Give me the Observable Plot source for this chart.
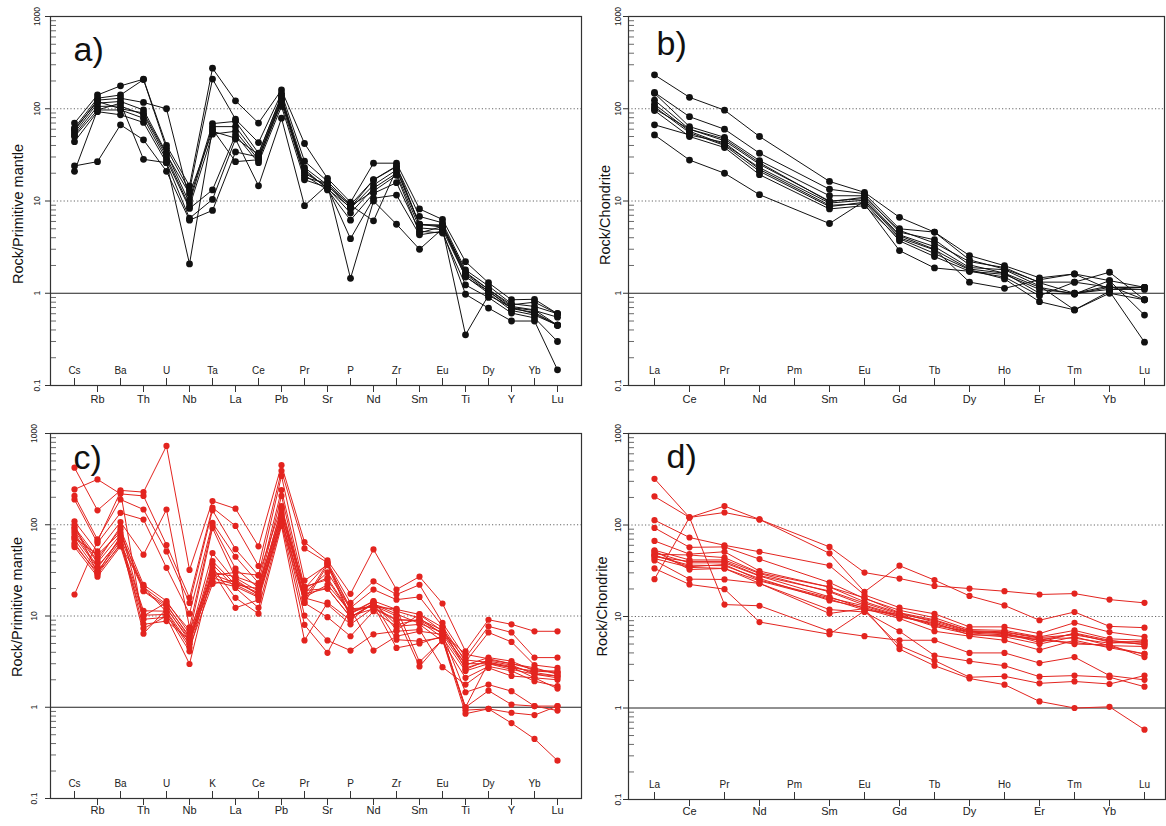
<!DOCTYPE html>
<html><head><meta charset="utf-8">
<script src="https://cdn.jsdelivr.net/npm/d3@7"></script>
<script src="https://cdn.jsdelivr.net/npm/@observablehq/plot@0.6"></script>
<style>
body{margin:0;background:#fff;width:1166px;height:826px;position:relative;overflow:hidden;font-family:"Liberation Sans",Arial,sans-serif}
.panel{position:absolute}
</style></head><body>
<div id="pa" class="panel" style="left:0;top:0"></div>
<div id="pb" class="panel" style="left:580px;top:0"></div>
<div id="pc" class="panel" style="left:0;top:415px"></div>
<div id="pd" class="panel" style="left:580px;top:415px"></div>
<script>
// ---- categories ----
const catsA = ["Cs","Rb","Ba","Th","U","Nb","Ta","La","Ce","Pb","Pr","Sr","P","Nd","Zr","Sm","Eu","Ti","Dy","Y","Yb","Lu"];
const catsC = ["Cs","Rb","Ba","Th","U","Nb","K","La","Ce","Pb","Pr","Sr","P","Nd","Zr","Sm","Eu","Ti","Dy","Y","Yb","Lu"];
const catsREE = ["La","Ce","Pr","Nd","Pm","Sm","Eu","Gd","Tb","Dy","Ho","Er","Tm","Yb","Lu"];
const catsREEdata = ["La","Ce","Pr","Nd","Sm","Eu","Gd","Tb","Dy","Ho","Er","Tm","Yb","Lu"];
const yTicks = [0.1, 1, 10, 100, 1000];
const yTickLabels = ["0.1", "1", "10", "100", "1000"];
const minorTicks = [0.2,0.3,0.4,0.5,0.6,0.7,0.8,0.9,2,3,4,5,6,7,8,9,20,30,40,50,60,70,80,90,200,300,400,500,600,700,800,900];

// ---- panel a: Rock/Primitive mantle (black) ----
const seriesA = [
 [70,141,177,209,40,14.6,275,122,70,160,42,17.6,9.7,25.7,25.7,8.2,6.3,2.2,1.3,0.85,0.86,0.6],
 [62,130,141,207,37,13,210,77,43,147,27,16.3,9.1,16.9,23.6,6.8,5.8,1.79,1.2,0.77,0.72,0.6],
 [58,124,130,117,100,10.3,69,73,33,135,23,14.9,8.3,14.9,21.7,5.6,5.4,1.65,1.1,0.72,0.66,0.45],
 [55,115,120,97,33,9.5,64,64,30,124,21,13.8,7.4,13.8,20,5.1,4.9,1.52,1.0,0.65,0.58,0.45],
 [52,106,107,86,30,8.7,53,57,28,115,19,13.2,6.2,12.1,15.8,4.7,4.5,1.23,0.9,0.61,0.54,0.3],
 [50,97,97,79,28,8.3,13.2,52,26,106,17,14,3.9,10.7,11.6,4.3,4.7,0.975,0.69,0.5,0.5,0.148],
 [44,93,86,71,26,6.5,10.4,47,14.6,79,8.9,15,1.45,10,5.6,3.0,5.0,0.354,0.95,0.7,0.6,0.45],
 [24,26.7,67,46,21,6.2,7.9,34,30,130,20,14.5,9,6.1,22,5.6,5.2,1.6,1.05,0.7,0.65,0.55],
 [21,97,115,28.3,26,2.08,60,26.7,28,120,22,13.5,8.5,17,24,5.5,5.5,1.7,1.1,0.75,0.8,0.6],
 [60,120,100,90,32,12,57,48,32,140,18,15.5,8.8,12.8,19,4.5,5.3,1.5,1.05,0.68,0.62,0.45]
];

// ---- panel b: Rock/Chondrite (black) ----
const seriesB = [
 [233,133,96.5,50,16.3,12.4,6.65,4.6,2.56,1.99,1.47,1.62,1.37,1.16],
 [150,82,60,33,13.4,12,5,4.6,2.3,1.83,1.32,1.32,1.69,0.85],
 [147,64,49,27.4,11.4,11.4,4.6,3.8,2.03,1.65,1.16,0.98,1.16,1.16],
 [124,60,45,25,10,10.6,4.3,3.2,1.9,1.8,1.2,0.66,1.0,0.85],
 [112,57,41,23,9.5,10.2,4.0,2.95,1.83,1.65,1.0,0.98,1.37,0.58],
 [105,55,40,21,8.7,9.7,3.7,2.5,1.73,1.5,0.94,1.32,1.16,1.16],
 [95.5,50,38,19.3,8.2,8.9,3.9,2.7,1.8,1.43,0.81,0.66,1.05,0.295],
 [67,52,43,22,9,9.3,2.9,1.88,1.73,1.6,1.1,1.0,1.2,0.85],
 [52,27.8,20,11.7,5.7,10,4.2,3.0,1.32,1.13,1.4,1.62,1.1,1.1],
 [100,60,47,26,9.8,11,4.8,3.5,2.2,1.9,1.3,1.0,1.1,1.16]
];

// ---- panel c: Rock/Primitive mantle (red) ----
const seriesC = [
 [422,144,238,228,730,32,182,150,58,450,64.5,40.6,17.5,53.6,19.5,27,13.7,4.1,9.1,8.1,6.8,6.8],
 [244,314,218,207,60,15.8,154,97,35.3,390,55,38.4,13.9,24,17.2,22,8.4,3.5,7.7,6.6,3.5,3.5],
 [207,69,189,147,51,13.9,144,54,27.8,343,24.5,36.3,12.3,19.5,15.1,16.2,7.7,3.14,6.6,5.2,2.9,2.7],
 [189,63,135,114,33.7,10.6,105,44.6,23,240,20.4,26.2,10.8,14.6,11.8,10.4,6.8,2.9,3.5,3.2,2.5,2.4],
 [109,51,107,47,147,7.5,99,33,20.3,207,17.5,20,9.7,13.4,11.3,9.5,6.3,2.7,3.2,2.9,2.3,2.2],
 [94,43.5,89,22,14.6,6.4,92,26.2,18.7,154,15.8,13.4,8.1,12.3,9.2,8.8,5.8,2.5,3.0,2.75,2.1,2.0],
 [85,38.5,78,20.7,13.4,5.8,49,24,17.2,135,13.9,9.7,6.0,11.3,7.7,8.1,5.3,2.1,2.8,2.5,1.93,1.7],
 [75,33.8,71,18.7,12.3,5.3,40,22,16.5,121,10.1,5.4,4.18,6.3,6.8,7.1,2.75,1.77,2.7,2.2,2.1,1.6],
 [69,31,66,11.4,11.3,4.9,36.7,20.3,12.3,105,8,3.95,12,4.18,6.0,6.8,6.3,1.46,1.77,1.5,1.03,1.03],
 [63,28.5,62,10.2,10.4,4.1,33.8,15.8,10.6,97,5.4,14,9,14,5.5,5.3,5.8,1.0,1.52,1.07,1.03,0.92],
 [57,27,58,9.2,9.7,2.98,31,12.3,15,110,16,22,11,13,4.47,5.0,6.0,0.93,0.96,0.87,0.82,1.03],
 [17.2,66,230,8.1,8.8,5.5,28.5,23,18,130,18,30,12,12.5,12,3.14,5.5,0.85,0.96,0.67,0.45,0.26],
 [100,29.5,75,7.3,10,5.0,26.2,22,20,145,20,38,11.5,13,10,2.8,5.5,1.0,3.1,2.8,2.4,2.2],
 [80,35,68,6.4,12,5.6,24,21,16,115,15,38,10,12,9,9,6.5,3.0,3.0,2.6,2.3,2.1],
 [60,30,60,21,11,4.5,22.5,25,17,100,14,36,9.5,14,8,9.2,7,3.3,3.1,2.7,2.5,2.5],
 [72,47,82,19,13,6.0,30,27,22,125,21,25,10.5,14.5,7,10.5,7.5,2.6,3.3,3.0,2.7,2.3],
 [90,40,95,10,14,7,28,30,28,160,19,20,9.8,13.5,10.5,8.3,6.6,3.8,3.4,3.0,2.6,2.4]
];

// ---- panel d: Rock/Chondrite (red) ----
const seriesD = [
 [25.6,121,161,115,57.6,30.2,26,21.6,20.2,18.9,17.4,17.8,15.3,14.1],
 [205,121,137,115,49,18.6,35.9,25,16.8,13.2,9.1,11.2,7.8,7.55],
 [320,121,13.5,13.1,6.9,6.1,5.5,5.5,4.0,4.0,3.1,3.6,2.26,2.03],
 [113,73,60,51,36,17.2,12.5,10.7,7.7,7.7,6.5,8.55,6.75,6.0],
 [93,57,57.6,42.4,23.5,15.7,11.7,9.7,7.2,7.05,6.0,7.05,5.7,5.5],
 [67,48,51,31.4,21,14.5,10.9,8.7,6.75,6.5,5.5,6.5,5.25,5.0],
 [53,41.5,41.5,29.5,18.6,13.3,10.3,7.8,6.4,6.0,5.0,6.0,4.8,4.7],
 [50,38.6,38.6,27.7,16.4,12.2,9.5,6.9,6.1,5.5,4.3,5.5,4.55,3.9],
 [46,36.4,35.9,26,15,12.5,9.9,8.3,6.6,6.3,5.7,5.0,4.9,3.6],
 [43,34.4,33.5,24.5,15.5,11.8,10.5,8.0,6.8,6.7,5.8,5.8,5.1,5.4],
 [41,25.6,25.4,23,10.8,12.2,4.4,2.9,2.1,1.8,1.18,1.0,1.03,0.58],
 [33.5,22.4,19.9,8.7,6.4,11.5,4.8,3.3,2.17,2.22,1.86,1.95,1.83,2.26],
 [48,47,44,30,21,16,11,9.2,7.0,6.8,5.9,6.3,5.4,5.2],
 [45,40,40,28,19,14,10.6,9.0,6.9,6.6,5.2,6.6,5.5,4.9],
 [47,35,37,25,16,13,10,8.5,6.3,6.2,5.5,5.2,4.7,3.9],
 [52,32.6,33.5,23,11.9,11.2,6.9,3.75,3.25,2.9,2.2,2.26,2.17,1.71]
];

const BLACK = "#111";
const RED = "#e3241f";

function toLong(series, cats) {
  const out = [];
  series.forEach((vals, s) => vals.forEach((v, j) => out.push({s, el: cats[j], v})));
  return out;
}

function panel(o) {
  const FW = o.W - o.mL - o.mR;
  const FH = o.H - o.mT - o.mB;
  const data = toLong(o.series, o.dataCats);
  const inCats = o.cats.filter((d, i) => i % 2 === 0);
  const outCats = o.cats.filter((d, i) => i % 2 === 1);
  return Plot.plot({
    width: o.W, height: o.H,
    marginLeft: o.mL, marginRight: o.mR, marginTop: o.mT, marginBottom: o.mB,
    style: {fontFamily: '"Liberation Sans", Arial, sans-serif', background: "transparent", color: "#111", overflow: "visible"},
    x: {type: "point", domain: o.cats, padding: 0, insetLeft: o.insL, insetRight: o.insR, axis: null},
    y: {type: "log", domain: [0.1, 1000], axis: null},
    marks: [
      Plot.ruleY([10, 100], {stroke: "#666", strokeDasharray: "1.2,2.2", strokeWidth: 1}),
      Plot.ruleY([1], {stroke: "#222", strokeWidth: 1}),
      Plot.ruleY(minorTicks, {insetRight: FW - 6, stroke: "#444", strokeWidth: 0.8}),
      Plot.ruleY(yTicks, {insetLeft: -5, insetRight: FW, stroke: "#333", strokeWidth: 1}),
      Plot.line(data, {x: "el", y: "v", z: "s", stroke: o.color, strokeWidth: 1}),
      Plot.dot(data, {x: "el", y: "v", r: o.r, fill: o.color, stroke: "none"}),
      Plot.frame({stroke: "#333", strokeWidth: 1.2}),
      Plot.ruleX(inCats, {x: d => d, insetTop: FH - 7, stroke: "#333"}),
      Plot.ruleX(outCats, {x: d => d, insetTop: FH, insetBottom: -7, stroke: "#333"}),
      Plot.text(inCats, {x: d => d, text: d => d, frameAnchor: "bottom", dy: -12, fontSize: 10, fill: "#222"}),
      Plot.text(outCats, {x: d => d, text: d => d, frameAnchor: "bottom", dy: o.outDy, fontSize: 11, fill: "#222"}),
      Plot.text(yTicks, {y: d => d, text: (d, i) => yTickLabels[i], frameAnchor: "left", textAnchor: "middle", dx: o.tickDx, rotate: -90, fontSize: 8.5, fill: "#222"}),
      Plot.text([o.title], {frameAnchor: "left", textAnchor: "middle", dx: o.titleDx, dy: o.titleDy, rotate: -90, fontSize: 14.5, fill: "#111"}),
      Plot.text([o.letter], {frameAnchor: "top-left", dx: o.letterDx, dy: o.letterDy, textAnchor: "start", lineAnchor: "bottom", fontSize: 34, fill: "#111"})
    ]
  });
}

document.getElementById("pa").append(panel({
  cats: catsA, dataCats: catsA, series: seriesA, color: BLACK, r: 3.4,
  title: "Rock/Primitive mantle", letter: "a)",
  W: 583, H: 415, mL: 50, mR: 2, mT: 16, mB: 30, insL: 19, insR: 19,
  tickDx: -13, titleDx: -32, titleDy: 13, letterDx: 23, letterDy: 44, outDy: 17
}));
document.getElementById("pb").append(panel({
  cats: catsREE, dataCats: catsREEdata, series: seriesB, color: BLACK, r: 3.4,
  title: "Rock/Chondrite", letter: "b)",
  W: 586, H: 415, mL: 48, mR: 2, mT: 16, mB: 30, insL: 25, insR: 19,
  tickDx: -10, titleDx: -23, titleDy: 14, letterDx: 28, letterDy: 38, outDy: 17
}));
document.getElementById("pc").append(panel({
  cats: catsC, dataCats: catsC, series: seriesC, color: RED, r: 3.1,
  title: "Rock/Primitive mantle", letter: "c)",
  W: 583, H: 411, mL: 50, mR: 2, mT: 18, mB: 28, insL: 19, insR: 19,
  tickDx: -16, titleDx: -33, titleDy: -9, letterDx: 23, letterDy: 35, outDy: 15
}));
document.getElementById("pd").append(panel({
  cats: catsREE, dataCats: catsREEdata, series: seriesD, color: RED, r: 3.1,
  title: "Rock/Chondrite", letter: "d)",
  W: 586, H: 411, mL: 48, mR: 1, mT: 18, mB: 27, insL: 25, insR: 20,
  tickDx: -10, titleDx: -26, titleDy: -10, letterDx: 38, letterDy: 34, outDy: 15
}));
</script>
</body></html>
